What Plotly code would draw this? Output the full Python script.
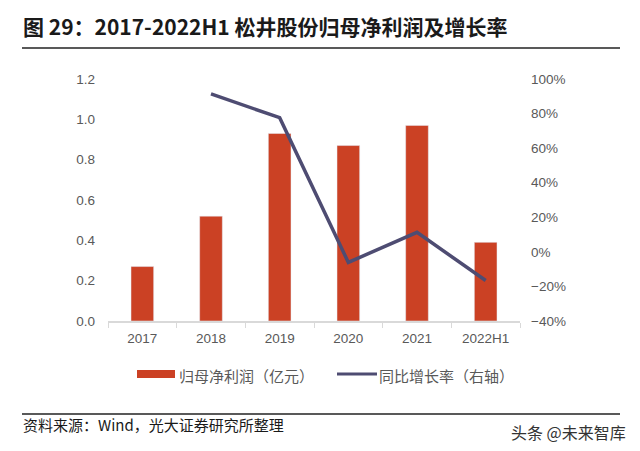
import plotly.graph_objects as go

years = ["2017", "2018", "2019", "2020", "2021", "2022H1"]
net_profit = [0.27, 0.52, 0.93, 0.87, 0.97, 0.39]          # 亿元
growth = [None, 0.914, 0.776, -0.061, 0.113, -0.166]        # 同比增长率

W, H = 640, 451
L, R, T, B = 108, 120, 79, 130
BAR = "#CB4124"
LINE = "#4E4C72"
FONT = "Noto Sans CJK SC"
TICKFONT = dict(size=13.5, family="Liberation Sans", color="#595959")


def px(x):
    return (x - L) / (W - L - R)


def py(y):
    return 1 - (y - T) / (H - T - B)


fig = go.Figure()
fig.add_trace(go.Bar(
    x=years, y=net_profit, marker_color=BAR, width=0.33,
    name="归母净利润（亿元）", yaxis="y",
))
fig.add_trace(go.Scatter(
    x=years, y=growth, mode="lines", line=dict(color=LINE, width=3.5),
    name="同比增长率（右轴）", yaxis="y2",
))

fig.update_layout(
    width=W, height=H, margin=dict(l=L, r=R, t=T, b=B),
    plot_bgcolor="white", paper_bgcolor="white", showlegend=False,
    font=dict(family=FONT, color="#595959", size=13),
    xaxis=dict(
        showline=True, linecolor="#D9D9D9", linewidth=1.5,
        ticks="outside", tickson="boundaries", ticklen=5, tickcolor="#D9D9D9",
        tickfont=TICKFONT, showgrid=False, ticklabelstandoff=4,
    ),
    yaxis=dict(
        range=[0, 1.2], dtick=0.2, tickformat=".1f", showgrid=False,
        zeroline=False, tickfont=TICKFONT, ticklabelstandoff=12,
    ),
    yaxis2=dict(
        range=[-0.4, 1.0], dtick=0.2, tickformat=".0%", overlaying="y",
        side="right", showgrid=False, zeroline=False,
        tickfont=TICKFONT, ticklabelstandoff=10,
    ),
)

# title, rules, source and watermark
fig.add_annotation(
    x=px(21), y=py(26), xref="paper", yref="paper", xanchor="left", yanchor="middle",
    text="<b>图 29：2017-2022H1 松井股份归母净利润及增长率</b>", showarrow=False,
    font=dict(size=21, color="#1a1a1a", family=FONT),
)
for yy in (48, 414):
    fig.add_shape(type="line", xref="paper", yref="paper",
                  x0=px(22), x1=px(620), y0=py(yy), y1=py(yy),
                  line=dict(color="#222222", width=1.5))
fig.add_annotation(
    x=px(21), y=py(424), xref="paper", yref="paper", xanchor="left", yanchor="middle",
    text="资料来源：Wind，光大证券研究所整理", showarrow=False,
    font=dict(size=15, color="#1a1a1a", family=FONT),
)
fig.add_annotation(
    x=px(628), y=py(432), xref="paper", yref="paper", xanchor="right", yanchor="middle",
    text="头条 @未来智库", showarrow=False,
    font=dict(size=16, color="#333333", family=FONT),
)

# legend
fig.add_shape(type="rect", xref="paper", yref="paper",
              x0=px(137), x1=px(175), y0=py(370), y1=py(378),
              fillcolor=BAR, line_width=0)
fig.add_annotation(
    x=px(177), y=py(375), xref="paper", yref="paper", xanchor="left", yanchor="middle",
    text="归母净利润（亿元）", showarrow=False, font=dict(size=15, color="#595959"),
)
fig.add_shape(type="line", xref="paper", yref="paper",
              x0=px(337), x1=px(377), y0=py(374), y1=py(374),
              line=dict(color=LINE, width=3))
fig.add_annotation(
    x=px(377), y=py(375), xref="paper", yref="paper", xanchor="left", yanchor="middle",
    text="同比增长率（右轴）", showarrow=False, font=dict(size=15, color="#595959"),
)

fig.write_html(
    "out.html",
    config={"displayModeBar": False},
    post_script="document.body.style.margin='0';",
)
